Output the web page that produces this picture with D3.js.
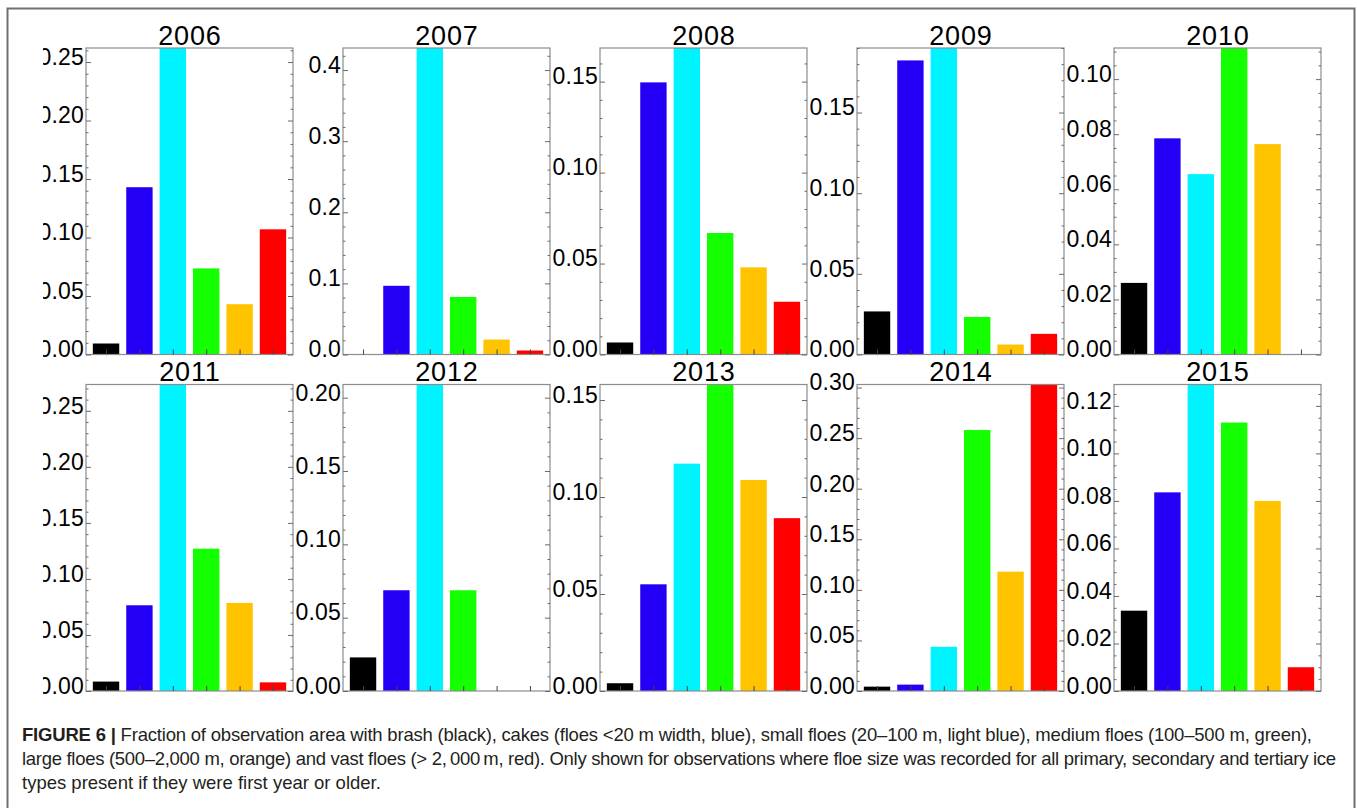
<!DOCTYPE html>
<html>
<head>
<meta charset="utf-8">
<script src="https://cdn.jsdelivr.net/npm/d3@7"></script>
<style>
  html, body { margin: 0; padding: 0; background: #fff; }
  svg { display: block; }
  text { font-family: "Liberation Sans", Arial, Helvetica, sans-serif; }
</style>
</head>
<body>
<svg id="fig" width="1357" height="808"></svg>
<script>
// Floe size classes (one bar per class in every panel)
const categories = ["brash", "cakes", "small floes", "medium floes", "large floes", "vast floes"];
const classColors = ["#000000", "#2300f5", "#00f4ff", "#14ff00", "#ffc300", "#ff0000"];

// Observation years (one panel each)
const years = [2006, 2007, 2008, 2009, 2010, 2011, 2012, 2013, 2014, 2015];

// Fraction of observation area per class, by year
const brash  = [0.0094, 0.0,    0.0066, 0.0267, 0.0260, 0.0084, 0.0229, 0.0040, 0.0043, 0.0338];
const cakes  = [0.1430, 0.0966, 0.1496, 0.1823, 0.0785, 0.0765, 0.0687, 0.0550, 0.0063, 0.0836];
const small  = [0.2620, 0.4310, 0.1685, 0.1900, 0.0655, 0.2735, 0.2090, 0.1172, 0.0437, 0.1290];
const medium = [0.0736, 0.0810, 0.0668, 0.0233, 0.1113, 0.1270, 0.0687, 0.1580, 0.2580, 0.1130];
const large  = [0.0430, 0.0210, 0.0479, 0.0062, 0.0764, 0.0786, 0.0,    0.1088, 0.1180, 0.0800];
const vast   = [0.1070, 0.0056, 0.0290, 0.0128, 0.0,    0.0077, 0.0,    0.0891, 0.3030, 0.0100];
const series = [brash, cakes, small, medium, large, vast];

// Y-axis major tick interval and number of minor divisions for each panel
const tickStep = [0.05, 0.1, 0.05, 0.05, 0.02, 0.05, 0.05, 0.05, 0.05, 0.02];
const minorDiv = [5, 5, 5, 5, 4, 5, 5, 5, 5, 4];

const captionLines = [
  { bold: "FIGURE 6 | ", text: "Fraction of observation area with brash (black), cakes (floes <20 m width, blue), small floes (20\u2013100 m, light blue), medium floes (100\u2013500 m, green),", width: 1290 },
  { bold: "", text: "large floes (500\u20132,000 m, orange) and vast floes (>\u00a02,\u2009000\u2009m, red). Only shown for observations where floe size was recorded for all primary, secondary and tertiary ice", width: 1314 },
  { bold: "", text: "types present if they were first year or older.", width: null }
];

const W = 1357, H = 808;
const svg = d3.select("#fig");

// outer figure border (open at the bottom edge)
svg.append("path")
  .attr("d", `M7.5,${H + 2} V8.5 H1354.5 V${H + 2}`)
  .attr("fill", "none")
  .attr("stroke", "#707070")
  .attr("stroke-width", 2);

// the panel block is cropped on its left side
svg.append("defs").append("clipPath").attr("id", "panelClip")
  .append("rect").attr("x", 43).attr("y", 0).attr("width", W - 43).attr("height", 700);

const panels = svg.append("g").attr("clip-path", "url(#panelClip)");

const plotW = 207, plotH = 306.5;
const colLeft = c => 86 + c * 257;
const rowTop = [48, 384.5];
const tickColor = "#6a6a6a";

years.forEach((year, k) => {
  const col = k % 5, row = Math.floor(k / 5);
  const left = colLeft(col), top = rowTop[row];
  const right = left + plotW, bottom = top + plotH;

  const values = series.map(s => s[k]);
  const yMax = d3.max(values);
  const step = tickStep[k];
  const decimals = step >= 0.1 ? 1 : 2;

  const x = d3.scaleLinear().domain([-0.6, 5.6]).range([left, right]);
  const y = d3.scaleLinear().domain([0, yMax]).range([bottom, top]);

  const majors = d3.range(0, Math.floor(yMax / step + 1e-6) + 1).map(i => +(i * step).toFixed(4));
  const mstep = step / minorDiv[k];
  const minors = d3.range(0, Math.floor(yMax / mstep + 1e-6) + 1)
    .filter(i => i % minorDiv[k] !== 0)
    .map(i => +(i * mstep).toFixed(5));

  const g = panels.append("g");

  // bars
  const barW = 0.79;
  g.selectAll("rect.bar")
    .data(values.map((v, i) => ({ v, i })))
    .join("rect")
    .attr("class", "bar")
    .attr("x", d => x(d.i - barW / 2))
    .attr("width", x(barW) - x(0))
    .attr("y", d => y(d.v))
    .attr("height", d => y(0) - y(d.v))
    .attr("fill", d => classColors[d.i]);

  // plot box
  g.append("rect")
    .attr("x", left).attr("y", top)
    .attr("width", plotW).attr("height", plotH)
    .attr("fill", "none")
    .attr("stroke", "#8c8c8c")
    .attr("stroke-width", 1.2);

  const fmt = d3.format(`.${decimals}f`);

  // left axis: major ticks with labels
  const leftAxis = g.append("g")
    .attr("transform", `translate(${left},0)`)
    .call(d3.axisLeft(y).tickValues(majors).tickSize(-5).tickPadding(2.5).tickFormat(fmt));
  leftAxis.select(".domain").remove();
  leftAxis.selectAll("line").attr("stroke", tickColor);
  leftAxis.selectAll("text")
    .attr("x", -2)
    .attr("dy", "0.1em")
    .attr("fill", "#000")
    .style("font-size", "23px")
    .style("letter-spacing", "0.2px")
    .attr("font-family", null);

  // left axis: minor ticks
  const leftMinor = g.append("g")
    .attr("transform", `translate(${left},0)`)
    .call(d3.axisLeft(y).tickValues(minors).tickSize(-2.5).tickFormat(""));
  leftMinor.select(".domain").remove();
  leftMinor.selectAll("line").attr("stroke", tickColor);

  // right axis: major and minor ticks pointing inward
  const rightAxis = g.append("g")
    .attr("transform", `translate(${right},0)`)
    .call(d3.axisRight(y).tickValues(majors).tickSize(-5).tickFormat(""));
  rightAxis.select(".domain").remove();
  rightAxis.selectAll("line").attr("stroke", tickColor);
  const rightMinor = g.append("g")
    .attr("transform", `translate(${right},0)`)
    .call(d3.axisRight(y).tickValues(minors).tickSize(-2.5).tickFormat(""));
  rightMinor.select(".domain").remove();
  rightMinor.selectAll("line").attr("stroke", tickColor);

  // bottom axis: one tick per size class
  const bottomAxis = g.append("g")
    .attr("transform", `translate(0,${bottom})`)
    .call(d3.axisBottom(x).tickValues(d3.range(categories.length)).tickSize(-5).tickFormat(""));
  bottomAxis.select(".domain").remove();
  bottomAxis.selectAll("line").attr("stroke", "#444");

  // panel title
  g.append("text")
    .attr("x", (left + right) / 2 + 0.4)
    .attr("y", top - 3.5)
    .attr("text-anchor", "middle")
    .style("font-size", "27px")
    .style("letter-spacing", "0.8px")
    .attr("fill", "#000")
    .text(year);
});

// figure caption
const cap = svg.append("g").attr("fill", "#231f20");
captionLines.forEach((ln, i) => {
  const t = cap.append("text")
    .attr("x", 22)
    .attr("y", 741 + i * 24)
    .style("font-size", "18.5px");
  if (ln.width) t.attr("textLength", ln.width).attr("lengthAdjust", "spacing");
  if (ln.bold) t.append("tspan").attr("font-weight", "bold").text(ln.bold);
  t.append("tspan").text(ln.text);
});
</script>
</body>
</html>
